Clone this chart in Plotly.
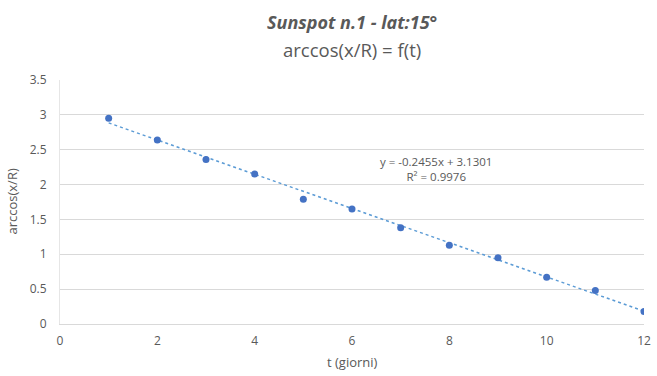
import plotly.graph_objects as go

t_days = [1, 2, 3, 4, 5, 6, 7, 8, 9, 10, 11, 12]
arccos_vals = [2.95, 2.64, 2.36, 2.15, 1.79, 1.65, 1.38, 1.13, 0.95, 0.67, 0.48, 0.18]
slope = -0.2455
intercept = 3.1301
r2 = 0.9976

x_ticks = [0, 2, 4, 6, 8, 10, 12]
y_ticks = [0, 0.5, 1, 1.5, 2, 2.5, 3, 3.5]
y_labels = ["0", "0.5", "1", "1.5", "2", "2.5", "3", "3.5"]

trend_x = [t_days[0], t_days[-1]]
trend_y = [slope * x + intercept for x in trend_x]

FONT = "Open Sans, sans-serif"
GRAY = "#595959"

fig = go.Figure()
fig.add_trace(go.Scatter(x=trend_x, y=trend_y, mode="lines",
                         line=dict(color="#5B9BD5", width=1.5, dash="dot"),
                         hoverinfo="skip", showlegend=False))
fig.add_trace(go.Scatter(x=t_days, y=arccos_vals, mode="markers",
                         marker=dict(color="#4472C4", size=7),
                         showlegend=False))

fig.add_annotation(x=7.72, y=2.23, xref="x", yref="y",
                   text=f"y = {slope}x + {intercept}<br>R² = {r2}",
                   showarrow=False, align="center",
                   font=dict(family=FONT, size=11.5, color=GRAY))

# Titles (placed in paper coordinates above the plot)
fig.add_annotation(x=0.5, y=1.238, xref="paper", yref="paper",
                   text="<b><i>Sunspot n.1 - lat:15°</i></b>", showarrow=False,
                   xanchor="center", yanchor="middle",
                   font=dict(family=FONT, size=18, color=GRAY))
fig.add_annotation(x=0.5, y=1.123, xref="paper", yref="paper",
                   text="arccos(x/R) = f(t)", showarrow=False,
                   xanchor="center", yanchor="middle",
                   font=dict(family=FONT, size=18.5, color=GRAY))
fig.add_annotation(x=0.5, y=-0.156, xref="paper", yref="paper",
                   text="t (giorni)", showarrow=False,
                   xanchor="center", yanchor="middle",
                   font=dict(family=FONT, size=13, color=GRAY))
fig.add_annotation(x=-0.083, y=0.5, xref="paper", yref="paper",
                   text="arccos(x/R)", showarrow=False, textangle=-90,
                   xanchor="center", yanchor="middle",
                   font=dict(family=FONT, size=13, color=GRAY))

fig.update_layout(
    width=657, height=376,
    margin=dict(l=60, r=6, t=80, b=52),
    paper_bgcolor="white", plot_bgcolor="white",
    xaxis=dict(range=[0, 12], tickvals=x_ticks, showgrid=False,
               showline=True, linecolor="#D9D9D9", linewidth=1,
               zeroline=False, ticks="", ticklabelstandoff=6,
               ticklabeloverflow="allow",
               tickfont=dict(family=FONT, size=12, color=GRAY)),
    yaxis=dict(range=[0, 3.5], tickvals=y_ticks, ticktext=y_labels,
               showgrid=True, gridcolor="#D9D9D9", gridwidth=1,
               showline=True, linecolor="#E6E6E6", linewidth=1,
               zeroline=False, ticks="", ticklabelstandoff=10,
               tickfont=dict(family=FONT, size=12, color=GRAY)),
)

fig.write_html("out.html")
